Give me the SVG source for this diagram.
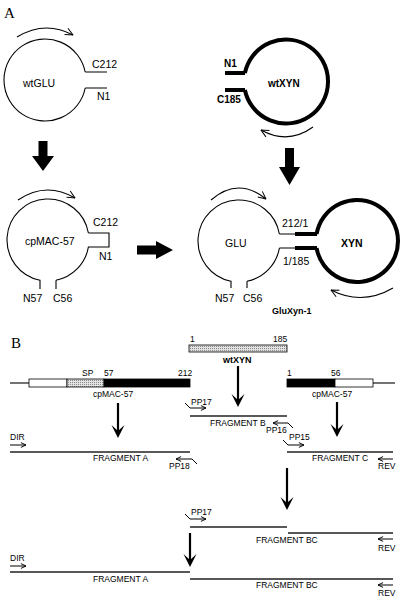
<svg xmlns="http://www.w3.org/2000/svg" width="404" height="604" viewBox="0 0 404 604">
<style>
text{font-family:"Liberation Sans",Arial,sans-serif;fill:#000}
.lbl{font-size:10.5px}
.bl{font-size:10px;font-weight:bold}
.sm{font-size:8.5px}
.smb{font-size:9px;font-weight:bold}
.big{font-family:"Liberation Serif","Times New Roman",serif;font-size:15px}
.thin{fill:none;stroke:#000;stroke-width:1.1}
.thick{fill:none;stroke:#000;stroke-width:4}
.rot{fill:none;stroke:#000;stroke-width:1.1;marker-end:url(#open)}
.frag{fill:none;stroke:#222;stroke-width:1.4}
.pr{fill:none;stroke:#000;stroke-width:1;marker-end:url(#pa)}
.shaft{fill:none;stroke:#000;stroke-width:2.2}
.bar{stroke:#000;stroke-width:0.8}
</style>
<defs>
<marker id="open" viewBox="0 0 10 10" refX="9.5" refY="5" markerWidth="9" markerHeight="9" markerUnits="userSpaceOnUse" orient="auto">
<path d="M1,1 L9.5,5 L1,9" fill="none" stroke="#000" stroke-width="1.1"/>
</marker>
<marker id="pa" viewBox="0 0 10 10" refX="9.5" refY="5" markerWidth="6" markerHeight="6" markerUnits="userSpaceOnUse" orient="auto">
<path d="M1,1 L9.5,5 L1,9" fill="none" stroke="#000" stroke-width="1.6"/>
</marker>
<pattern id="hatch" width="2" height="2" patternUnits="userSpaceOnUse">
<rect width="2" height="2" fill="#e2e2e2"/>
<rect width="1" height="1" fill="#8a8a8a"/>
</pattern>
</defs>
<rect width="404" height="604" fill="#fff"/>

<text class="big" x="4" y="18">A</text>
<text class="big" x="11" y="348">B</text>

<!-- Part A nodes -->
<g id="wtGLU">
<path class="thin" d="M85.2,72 A41,41 0 1 0 85.2,88 M85.2,72 H107 M85.2,88 H107"/>
<path class="rot" d="M17,37 Q45,20 73,35"/>
<text class="lbl" x="23" y="87">wtGLU</text>
<text class="lbl" x="92" y="68">C212</text>
<text class="lbl" x="97" y="100">N1</text>
</g>

<g id="wtXYN">
<path class="thick" d="M244.9,73 A42,42 0 1 1 244.9,90 M225,73 H245 M225,90 H245"/>
<path class="rot" d="M313,127 Q288,145 261,130"/>
<text class="bl" x="224" y="67">N1</text>
<text class="bl" x="268" y="87">wtXYN</text>
<text class="bl" x="217" y="103">C185</text>
</g>

<g id="cpMAC57">
<path class="thin" d="M88.4,233 A41,41 0 1 0 40,280.2 V289 M56,280.2 A41,41 0 0 0 88.4,247 H109 V233 H88.4"/>
<path class="rot" d="M18,200 Q46,181 75,198"/>
<text class="lbl" x="25" y="245">cpMAC-57</text>
<text class="lbl" x="93" y="226">C212</text>
<text class="lbl" x="99" y="260">N1</text>
<text class="lbl" x="23" y="302">N57</text>
<path class="thin" d="M56,280.2 V289"/>
<text class="lbl" x="53" y="302">C56</text>
</g>

<g id="GluXyn1">
<path class="thin" d="M279.4,234 A41,41 0 1 0 231,281.2 V288 M247,281.2 A41,41 0 0 0 279.4,248 M279.4,234 H295 M279.4,248 H295 M247,281.2 V288"/>
<path class="thick" d="M316.6,234 A41,41 0 1 1 316.6,248 M295,234 H317 M295,248 H317"/>
<path class="rot" d="M211,200 Q238,176.5 266,199"/>
<path class="rot" d="M393,288 Q362,306 331,290"/>
<text class="lbl" x="225" y="247">GLU</text>
<text class="bl" x="341" y="247" style="font-size:10.5px">XYN</text>
<text class="lbl" x="282" y="227">212/1</text>
<text class="lbl" x="283" y="265">1/185</text>
<text class="lbl" x="215" y="302">N57</text>
<text class="lbl" x="243" y="302">C56</text>
<text class="smb" x="272" y="314">GluXyn-1</text>
</g>

<!-- Part B nodes -->
<g id="geneLeft">
<path class="thin" d="M10,383 H29"/>
<rect class="bar" x="29" y="379" width="38" height="8" fill="#fff"/>
<rect class="bar" x="67" y="379" width="37" height="8" fill="url(#hatch)"/>
<rect class="bar" x="104" y="379" width="86" height="8" fill="#000"/>
<text class="sm" x="82" y="376">SP</text>
<text class="sm" x="104" y="376">57</text>
<text class="sm" x="178" y="376">212</text>
<text class="sm" x="93" y="397">cpMAC-57</text>
</g>

<g id="geneXYN">
<rect class="bar" x="189" y="345" width="98" height="7" fill="url(#hatch)"/>
<text class="sm" x="190" y="342">1</text>
<text class="sm" x="273" y="342">185</text>
<text class="smb" x="223" y="363">wtXYN</text>
</g>

<g id="geneRight">
<rect class="bar" x="287" y="379" width="48" height="8" fill="#000"/>
<rect class="bar" x="335" y="379" width="38" height="8" fill="#fff"/>
<path class="thin" d="M373,383 H395"/>
<text class="sm" x="287" y="376">1</text>
<text class="sm" x="331" y="376">56</text>
<text class="sm" x="312" y="397">cpMAC-57</text>
</g>

<g id="fragA1">
<path class="frag" d="M10,452 H190"/>
<path class="pr" d="M10,445 H26"/>
<text class="sm" x="10" y="440">DIR</text>
<text class="sm" x="93" y="461">FRAGMENT A</text>
<path class="pr" d="M197,464 L192,459 H176"/>
<text class="sm" x="169" y="469">PP18</text>
</g>

<g id="fragB">
<path class="frag" d="M190,416 H287"/>
<path class="pr" d="M185,403 L190,408 H206"/>
<text class="sm" x="191" y="405">PP17</text>
<text class="sm" x="210" y="426">FRAGMENT B</text>
<path class="pr" d="M293,428 L288,423 H273"/>
<text class="sm" x="266" y="433">PP16</text>
</g>

<g id="fragC">
<path class="frag" d="M287,452 H393"/>
<path class="pr" d="M283,440 L288,445 H304"/>
<text class="sm" x="289" y="440">PP15</text>
<text class="sm" x="312" y="461">FRAGMENT C</text>
<path class="pr" d="M393,459 H378"/>
<text class="sm" x="378" y="469">REV</text>
</g>

<g id="fragBC">
<path class="frag" d="M190,527 H287 M288,533 H393"/>
<path class="pr" d="M185,514 L190,519 H206"/>
<text class="sm" x="191" y="515">PP17</text>
<text class="sm" x="256" y="543">FRAGMENT BC</text>
<path class="pr" d="M393,539 H378"/>
<text class="sm" x="378" y="551">REV</text>
</g>

<g id="fragFinal">
<path class="frag" d="M10,572 H190 M190,579 H393"/>
<path class="pr" d="M10,566 H26"/>
<text class="sm" x="10" y="561">DIR</text>
<text class="sm" x="93" y="582">FRAGMENT A</text>
<text class="sm" x="256" y="588">FRAGMENT BC</text>
<path class="pr" d="M393,585 H378"/>
<text class="sm" x="378" y="596">REV</text>
</g>

<!-- connectors -->
<g id="connectors">
<polygon points="38.5,141 47.5,141 47.5,156 54,156 43,171 32,156 38.5,156" fill="#000"/>
<polygon points="137,245.5 156,245.5 156,241 173,250 156,259 156,254.5 137,254.5" fill="#000"/>
<polygon points="285,148 294,148 294,167 300,167 289.5,185 279,167 285,167" fill="#000"/>
<g>
<path class="shaft" d="M118,403 V432"/>
<polygon points="118,438 111.5,425 118,431 124.5,425" fill="#000"/>
<path class="shaft" d="M238,366 V401"/>
<polygon points="238,407 231.5,394 238,400 244.5,394" fill="#000"/>
<path class="shaft" d="M337,402 V431"/>
<polygon points="337,437 330.5,424 337,430 343.5,424" fill="#000"/>
<path class="shaft" d="M287,468 V504"/>
<polygon points="287,510 280.5,497 287,503 293.5,497" fill="#000"/>
<path class="shaft" d="M190,533 V561"/>
<polygon points="190,567 183.5,554 190,560 196.5,554" fill="#000"/>
</g>
</g>
</svg>
